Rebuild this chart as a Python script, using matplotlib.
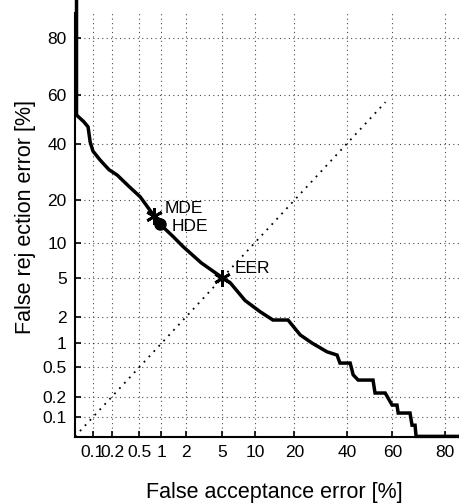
import math
import numpy as np
import matplotlib
matplotlib.use("Agg")
import matplotlib.pyplot as plt

# ---- data (percent) ----
fa = [0.053, 0.053, 0.07, 0.083, 0.09, 0.10, 0.13, 0.18, 0.24, 0.35, 0.52, 0.80, 0.96,
      1.4, 1.86, 3.0, 5.0, 5.95, 8.2, 11.0, 14.0, 18.1, 21.9, 26.0, 31.7, 35.8, 37.0,
      41.4, 42.7, 44.9, 51.5, 52.4, 56.9, 59.9, 62.0, 62.5, 67.4, 68.2, 69.4, 69.8, 90.0]
fr = [90.0, 51.7, 49.0, 46.8, 40.6, 37.0, 33.6, 30.0, 28.1, 24.5, 21.0, 15.8, 13.8,
      11.2, 9.3, 6.8, 5.0, 4.5, 3.0, 2.3, 1.86, 1.86, 1.26, 1.01, 0.79, 0.72, 0.57,
      0.57, 0.40, 0.34, 0.34, 0.225, 0.225, 0.151, 0.151, 0.115, 0.115, 0.075, 0.075, 0.05, 0.05]
diag = [0.05, 57.0]
mde = (0.80, 15.8)
hde = (0.96, 13.8)
eer = (5.0, 5.0)
xticks = [0.1, 0.2, 0.5, 1, 2, 5, 10, 20, 40, 60, 80]
xticklabels = ["0.1", "0.2", "0.5", "1", "2", "5", "10", "20", "40", "60", "80"]
yticks = [0.1, 0.2, 0.5, 1, 2, 5, 10, 20, 40, 60, 80]
yticklabels = ["0.1", "0.2", "0.5", "1", "2", "5", "10", "20", "40", "60", "80"]


def _ppf_scalar(p):
    a = [-3.969683028665376e+01, 2.209460984245205e+02, -2.759285104469687e+02,
         1.383577518672690e+02, -3.066479806614716e+01, 2.506628277459239e+00]
    b = [-5.447609879822406e+01, 1.615858368580409e+02, -1.556989798598866e+02,
         6.680131188771972e+01, -1.328068155288572e+01]
    c = [-7.784894002430293e-03, -3.223964580411365e-01, -2.400758277161838e+00,
         -2.549732539343734e+00, 4.374664141464968e+00, 2.938163982698783e+00]
    d = [7.784695709041462e-03, 3.224671290700398e-01, 2.445134137142996e+00,
         3.754408661907416e+00]
    p = min(max(p, 1e-12), 1 - 1e-12)
    plow = 0.02425
    if p < plow:
        q = math.sqrt(-2 * math.log(p))
        return (((((c[0]*q+c[1])*q+c[2])*q+c[3])*q+c[4])*q+c[5]) / ((((d[0]*q+d[1])*q+d[2])*q+d[3])*q+1)
    if p > 1 - plow:
        q = math.sqrt(-2 * math.log(1 - p))
        return -(((((c[0]*q+c[1])*q+c[2])*q+c[3])*q+c[4])*q+c[5]) / ((((d[0]*q+d[1])*q+d[2])*q+d[3])*q+1)
    q = p - 0.5
    r = q * q
    return (((((a[0]*r+a[1])*r+a[2])*r+a[3])*r+a[4])*r+a[5])*q / (((((b[0]*r+b[1])*r+b[2])*r+b[3])*r+b[4])*r+1)


def fwd(x):
    x = np.asarray(x, dtype=float)
    out = np.array([_ppf_scalar(v / 100.0) if np.isfinite(v) else np.nan for v in x.ravel()])
    return out.reshape(x.shape)


def inv(z):
    z = np.asarray(z, dtype=float)
    out = np.array([50.0 * (1 + math.erf(v / math.sqrt(2))) if np.isfinite(v) else np.nan for v in z.ravel()])
    return out.reshape(z.shape)


plt.rcParams['font.family'] = ['Liberation Sans', 'DejaVu Sans']
fig = plt.figure(figsize=(4.59, 5.04), dpi=100)
ax = fig.add_axes([75/459, 67/504, 384/459, 424/504])
ax.set_xscale('function', functions=(fwd, inv))
ax.set_yscale('function', functions=(fwd, inv))

ax.plot(diag, diag, linestyle=(0, (1, 3)), color='black', linewidth=1.3)
ax.plot(fa, fr, color='black', linewidth=2.5, clip_on=False, solid_joinstyle='miter')
ax.plot([mde[0]], [mde[1]], marker=(6, 2, 0), markersize=12, color='black', mew=2)
ax.plot([hde[0]], [hde[1]], marker='o', markersize=8, color='black')
ax.plot([eer[0]], [eer[1]], marker=(6, 2, 0), markersize=12, color='black', mew=2)

ax.text(1.1, 17.8, "MDE", fontsize=12.5, va='center', ha='left')
ax.text(1.33, 13.2, "HDE", fontsize=12.5, va='center', ha='left')
ax.text(6.6, 6.1, "EER", fontsize=12.5, va='center', ha='left')

ax.set_xlim(inv(-3.291), inv(0.998))
ax.set_ylim(inv(-3.297), inv(1.101))
ax.set_xticks(xticks)
ax.set_xticklabels(xticklabels)
ax.set_yticks(yticks)
ax.set_yticklabels(yticklabels)
ax.minorticks_off()
ax.grid(True, linestyle=(0, (1, 3)), color='black', linewidth=0.8, alpha=0.7)
ax.tick_params(direction='in', length=4, labelsize=12.5, width=1.2, pad=6)
for s in ['top', 'right']:
    ax.spines[s].set_visible(False)
for s in ['left', 'bottom']:
    ax.spines[s].set_linewidth(1.5)

ax.set_xlabel("False acceptance error [%]", fontsize=15.5, va='center')
ax.xaxis.set_label_coords(0.52, -0.13)
ax.set_ylabel("False rej ection error [%]", fontsize=15.5, va='center')
ax.yaxis.set_label_coords(-0.13, 0.52)

fig.savefig("out.png", dpi=100)
